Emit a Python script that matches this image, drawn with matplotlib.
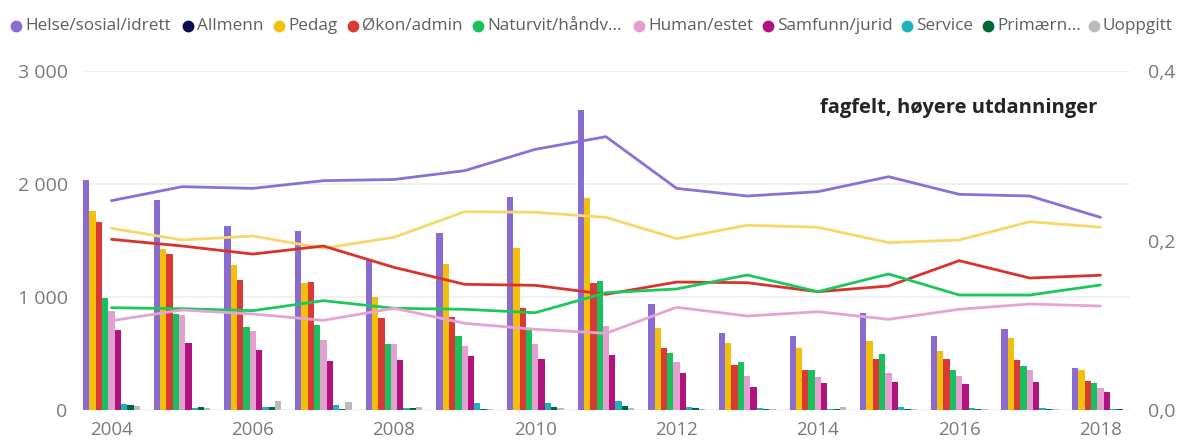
import numpy as np
import matplotlib
matplotlib.use("Agg")
import matplotlib.pyplot as plt
from matplotlib.lines import Line2D

# ─── Data ───────────────────────────────────────────────────────────────────

years = list(range(2004, 2019))

# bar series: number of candidates per field (left axis)
helse    = [2035, 1858, 1631, 1587, 1327, 1570, 1885, 2655, 938, 684, 658, 856, 658, 720, 375]
pedag    = [1761, 1422, 1280, 1121, 1003, 1295, 1434, 1873, 723, 590, 549, 614, 519, 634, 354]
okon     = [1661, 1378, 1150, 1133, 817, 820, 900, 1127, 546, 398, 354, 451, 451, 442, 260]
naturvit = [994, 850, 732, 752, 581, 655, 708, 1142, 507, 422, 354, 496, 351, 386, 236]
human    = [876, 838, 696, 619, 581, 566, 581, 743, 428, 301, 292, 330, 301, 354, 198]
samfunn  = [708, 596, 531, 434, 440, 478, 448, 487, 324, 206, 242, 248, 227, 248, 162]
service  = [53, 18, 24, 47, 21, 65, 59, 83, 29, 20, 6, 29, 15, 15, 9]
primaern = [41, 29, 29, 12, 18, 6, 29, 35, 18, 8, 6, 9, 6, 6, 5]
uoppgitt = [35, 18, 80, 71, 29, 5, 18, 18, 9, 5, 29, 6, 5, 5, 3]

# line series: share of total (right axis)
andel_helse    = [0.247, 0.2635, 0.2615, 0.2706, 0.272, 0.2824, 0.3076, 0.3225,
                  0.2615, 0.2525, 0.2576, 0.2753, 0.2545, 0.2525, 0.2273]
andel_pedag    = [0.2144, 0.2006, 0.2053, 0.1908, 0.2038, 0.234, 0.2333, 0.2273,
                  0.2022, 0.218, 0.2156, 0.1975, 0.2006, 0.2222, 0.2156]
andel_okon     = [0.2014, 0.1935, 0.184, 0.1935, 0.1683, 0.1483, 0.1471, 0.1365,
                  0.151, 0.1502, 0.1396, 0.1463, 0.1762, 0.1557, 0.159]
andel_naturvit = [0.1207, 0.1195, 0.1172, 0.129, 0.12, 0.1188, 0.1148, 0.1384,
                  0.1428, 0.1593, 0.1396, 0.1605, 0.1357, 0.1357, 0.1475]
andel_human    = [0.1054, 0.118, 0.1133, 0.1058, 0.12, 0.1023, 0.0952, 0.0905,
                  0.1212, 0.1109, 0.116, 0.107, 0.1188, 0.1251, 0.1227]

legend_labels = ["Helse/sosial/idrett", "Allmenn", "Pedag", "Økon/admin",
                 "Naturvit/håndv...", "Human/estet", "Samfunn/jurid",
                 "Service", "Primærn...", "Uoppgitt"]

# ─── Style ──────────────────────────────────────────────────────────────────

plt.rcParams["font.family"] = ["Open Sans", "DejaVu Sans"]

C_HELSE = "#8A6CD0"
C_ALLM = "#0D0C52"
C_PEDAG = "#F2C00A"
C_OKON = "#D93A35"
C_NAT = "#18C05E"
C_HUM = "#E3A0CE"
C_SAMF = "#B0127E"
C_SERV = "#20B2BA"
C_PRIM = "#00693A"
C_UOPP = "#BBBBBB"
legend_colors = [C_HELSE, C_ALLM, C_PEDAG, C_OKON, C_NAT, C_HUM, C_SAMF,
                 C_SERV, C_PRIM, C_UOPP]

GREY_TXT = "#7A7A7A"
GRID = "#EDEDED"

fig = plt.figure(figsize=(11.79, 4.42), dpi=100)
ax = fig.add_axes([83 / 1179, 32 / 442, 1047 / 1179, 339 / 442])
ax2 = ax.twinx()

x = np.array(years, dtype=float)
bar_series = [(helse, C_HELSE), (pedag, C_PEDAG), (okon, C_OKON),
              (naturvit, C_NAT), (human, C_HUM), (samfunn, C_SAMF),
              (service, C_SERV), (primaern, C_PRIM), (uoppgitt, C_UOPP)]
n = len(bar_series)
w = 0.803 / n
for i, (vals, col) in enumerate(bar_series):
    ax.bar(x - 0.4015 + w * (i + 0.5), vals, width=w, color=col, linewidth=0, zorder=2)

ax.set_xlim(2003.597, 2018.418)
ax.set_ylim(0, 3000)
ax.set_yticks([0, 1000, 2000, 3000])
ax.set_yticklabels(["0", "1 000", "2 000", "3 000"])
ax.set_xticks(range(2004, 2019, 2))
ax.grid(axis="y", color=GRID, linewidth=1.2, zorder=0)
ax.set_axisbelow(True)
for s in ax.spines.values():
    s.set_visible(False)
ax.tick_params(axis="y", length=0, pad=11, labelsize=14, labelcolor=GREY_TXT)
ax.tick_params(axis="x", length=0, pad=8, labelsize=13.5, labelcolor=GREY_TXT)

line_series = [(andel_helse, "#8B6FD8"), (andel_pedag, "#F7D66A"),
               (andel_okon, "#D9322E"), (andel_naturvit, "#1CC85B"),
               (andel_human, "#E4A4D4")]
for vals, col in line_series:
    ax2.plot(x, vals, color=col, linewidth=2.0, solid_capstyle="round", zorder=3)

ax2.set_ylim(0, 0.4)
ax2.set_yticks([0.0, 0.2, 0.4])
ax2.set_yticklabels(["0,0", "0,2", "0,4"])
for s in ax2.spines.values():
    s.set_visible(False)
ax2.tick_params(axis="y", length=0, pad=13, labelsize=14, labelcolor=GREY_TXT)

ax2.text(2017.95, 0.356, "fagfelt, høyere utdanninger", ha="right", va="center",
         fontsize=14.5, fontweight="bold", color="#252423")

# ─── Legend (manual, single row) ────────────────────────────────────────────

text_x = [25, 197, 288, 362, 487, 648, 777, 916, 997, 1103]
ly = 1 - 26 / 442
for lab, col, tx in zip(legend_labels, legend_colors, text_x):
    fig.add_artist(Line2D([(tx - 9) / 1179], [ly], marker="o", markersize=7.5,
                          color=col, linestyle="none", transform=fig.transFigure))
    fig.text(tx / 1179, ly, lab, ha="left", va="center", fontsize=12.3,
             color="#605E5C")

fig.savefig("out.png", dpi=100)
